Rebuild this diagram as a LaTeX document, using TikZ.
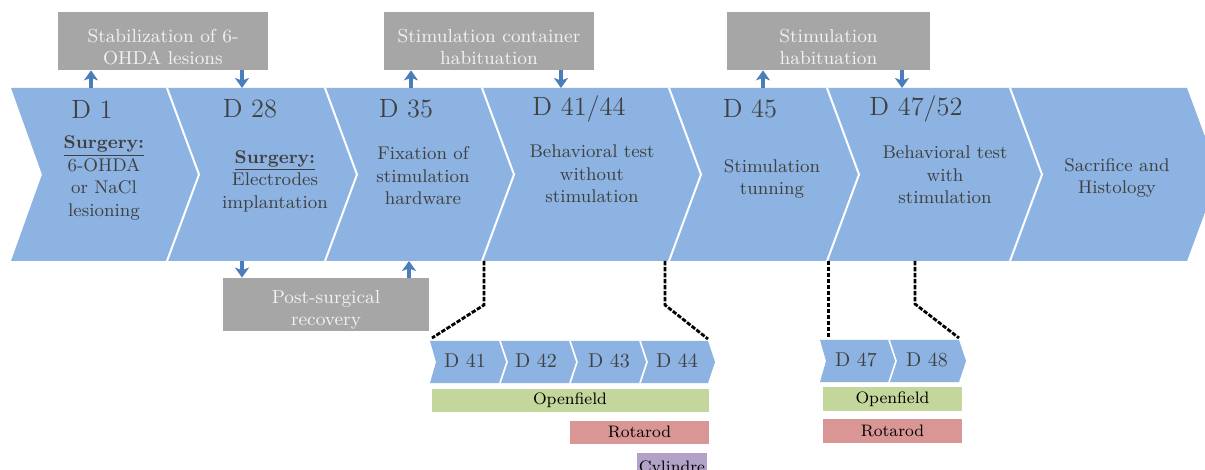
\documentclass[tikz,border=0pt]{standalone}
\usepackage{fontspec}
\usetikzlibrary{arrows.meta}

\definecolor{chevblue}{HTML}{8DB3E2}
\definecolor{arrowblue}{HTML}{4A7EBB}
\definecolor{boxgray}{HTML}{A6A6A6}
\definecolor{txtgray}{HTML}{404040}
\definecolor{barGreen}{HTML}{C3D69B}
\definecolor{barRed}{HTML}{D99694}
\definecolor{barPurple}{HTML}{B3A2C7}

\tikzset{
  daylbl/.style={text=txtgray, inner sep=0pt, font=\fontsize{13.2}{15}\selectfont},
  chevtxt/.style={text=txtgray, inner sep=0pt, align=center, font=\fontsize{9.2}{11.3}\selectfont},
  graybox/.style={fill=boxgray, inner sep=0pt},
  graytxt/.style={text=white!95!black, inner sep=0pt, align=center, font=\fontsize{9.4}{11.2}\selectfont},
  smalllbl/.style={text=txtgray, inner sep=0pt, font=\fontsize{10}{12}\selectfont},
  bar/.style={inner sep=0pt, text=black, font=\fontsize{8.3}{10}\selectfont},
  bluearrow/.style={arrowblue, line width=2pt, -{Stealth[length=5pt,width=7pt,inset=1.3pt]}},
  zoomline/.style={black, line width=1.4pt, dash pattern=on 2.2pt off 0.8pt},
  sep/.style={white, line width=1pt, line join=miter}
}

\begin{document}
\begin{tikzpicture}[x=0.5pt, y=-0.5pt]
\useasboundingbox (0,0) rectangle (1205,470);
\clip (0,0) rectangle (1205,470);

% ---- main timeline chevrons ----
\foreach \L/\R in {11/167, 167/325, 325/482, 482/669, 669/827, 827/1010, 1010/1187}{
  \fill[chevblue] (\L,88) -- (\R,88) -- (\R+32,174.5) -- (\R,261) -- (\L,261) -- (\L+31,174.5) -- cycle;
}
\foreach \R in {167, 325, 482, 669, 827, 1010}{
  \draw[sep] (\R,88) -- (\R+32,174.5) -- (\R,261);
}

% day labels
\node[daylbl] (d1)  at (92,109)  {D 1};
\node[daylbl] (d28) at (250,109) {D 28};
\node[daylbl] (d35) at (406,109) {D 35};
\node[daylbl] (d41) at (579,109) {D 41/44};
\node[daylbl] (d45) at (750,109) {D 45};
\node[daylbl] (d47) at (916,109) {D 47/52};

% step descriptions
\node[chevtxt] (t1) at (104,178) {\textbf{\underline{Surgery:}}\\6-OHDA\\or NaCl\\lesioning};
\node[chevtxt] (t2) at (275,181) {\textbf{\underline{Surgery:}}\\Electrodes\\implantation};
\node[chevtxt] (t3) at (423,176) {Fixation of\\stimulation\\hardware};
\node[chevtxt] (t4) at (592,174) {Behavioral test\\without\\stimulation};
\node[chevtxt] (t5) at (772,179) {Stimulation\\tunning};
\node[chevtxt] (t6) at (945,175) {Behavioral test\\with\\stimulation};
\node[chevtxt] (t7) at (1117,178) {Sacrifice and\\Histology};

% ---- gray boxes ----
\node[graybox, minimum width=105pt, minimum height=29pt] (b1) at (163,41) {};
\node[graytxt] (b1t) at (163,47) {Stabilization of 6-\\OHDA lesions};
\node[graybox, minimum width=105pt, minimum height=29pt] (b2) at (489,41) {};
\node[graytxt] (b2t) at (489,47) {Stimulation container\\habituation};
\node[graybox, minimum width=101.5pt, minimum height=29pt] (b3) at (828.5,41) {};
\node[graytxt] (b3t) at (828.5,47) {Stimulation\\habituation};
\node[graybox, minimum width=103pt, minimum height=26.5pt] (b4) at (326,304.5) {};
\node[graytxt] (b4t) at (326,310) {Post-surgical\\recovery};

% attachment points on the timeline
\coordinate (a1) at (91,88);
\coordinate (a2) at (242,88);
\coordinate (a3) at (411,88);
\coordinate (a4) at (561,88);
\coordinate (a5) at (763,88);
\coordinate (a6) at (902,88);
\coordinate (a7) at (242,261);
\coordinate (a8) at (409,261);

\draw[bluearrow] (a1) -- (a1 |- b1.south);
\draw[bluearrow] (a2 |- b1.south) -- (a2);
\draw[bluearrow] (a3) -- (a3 |- b2.south);
\draw[bluearrow] (a4 |- b2.south) -- (a4);
\draw[bluearrow] (a5) -- (a5 |- b3.south);
\draw[bluearrow] (a6 |- b3.south) -- (a6);
\draw[bluearrow] (a7) -- (a7 |- b4.north);
\draw[bluearrow] (a8 |- b4.north) -- (a8);

% ---- detail chevrons: D41-D44 ----
\foreach \L/\R in {430/500, 500/570, 570/640, 640/708}{
  \fill[chevblue] (\L,341) -- (\R,341) -- (\R+7,362) -- (\R,383) -- (\L,383) -- (\L+6,362) -- cycle;
}
\foreach \R in {500, 570, 640}{
  \draw[sep, line width=0.8pt] (\R,341) -- (\R+7,362) -- (\R,383);
}
\node[smalllbl] (s41) at (465,361) {D 41};
\node[smalllbl] (s42) at (536,361) {D 42};
\node[smalllbl] (s43) at (609,361) {D 43};
\node[smalllbl] (s44) at (677,361) {D 44};

% ---- detail chevrons: D47-D48 ----
\foreach \L/\R in {820/889, 889/959}{
  \fill[chevblue] (\L,340) -- (\R,340) -- (\R+7,361) -- (\R,382) -- (\L,382) -- (\L+6,361) -- cycle;
}
\draw[sep, line width=0.8pt] (889,340) -- (896,361) -- (889,382);
\node[smalllbl] (s47) at (856,360) {D 47};
\node[smalllbl] (s48) at (927,360) {D 48};

% ---- test bars ----
\node[bar, fill=barGreen, minimum width=138.5pt, minimum height=11.5pt] (of1) at (570,400) {Openfield};
\node[bar, fill=barRed, minimum width=69.5pt, minimum height=11.5pt] (ro1) at (639.5,432) {Rotarod};
\node[bar, fill=barPurple, minimum width=35pt, minimum height=15pt] (cy1) at (672,468) {Cylindre};
\node[bar, fill=barGreen, minimum width=69.5pt, minimum height=12pt] (of2) at (892.5,399) {Openfield};
\node[bar, fill=barRed, minimum width=69.5pt, minimum height=12pt] (ro2) at (892.5,431) {Rotarod};

% ---- zoom connectors ----
\coordinate (z1a) at (484,261); \coordinate (z1b) at (484,305); \coordinate (z1c) at (432,338);
\coordinate (z2a) at (665,261); \coordinate (z2b) at (665,305); \coordinate (z2c) at (708,339);
\coordinate (z3a) at (828.5,261); \coordinate (z3c) at (828.5,337);
\coordinate (z4a) at (915,261); \coordinate (z4b) at (915,304); \coordinate (z4c) at (959,338);
\draw[zoomline] (z1a) -- (z1b) -- (z1c);
\draw[zoomline] (z2a) -- (z2b) -- (z2c);
\draw[zoomline] (z3a) -- (z3c);
\draw[zoomline] (z4a) -- (z4b) -- (z4c);
\end{tikzpicture}
\end{document}
